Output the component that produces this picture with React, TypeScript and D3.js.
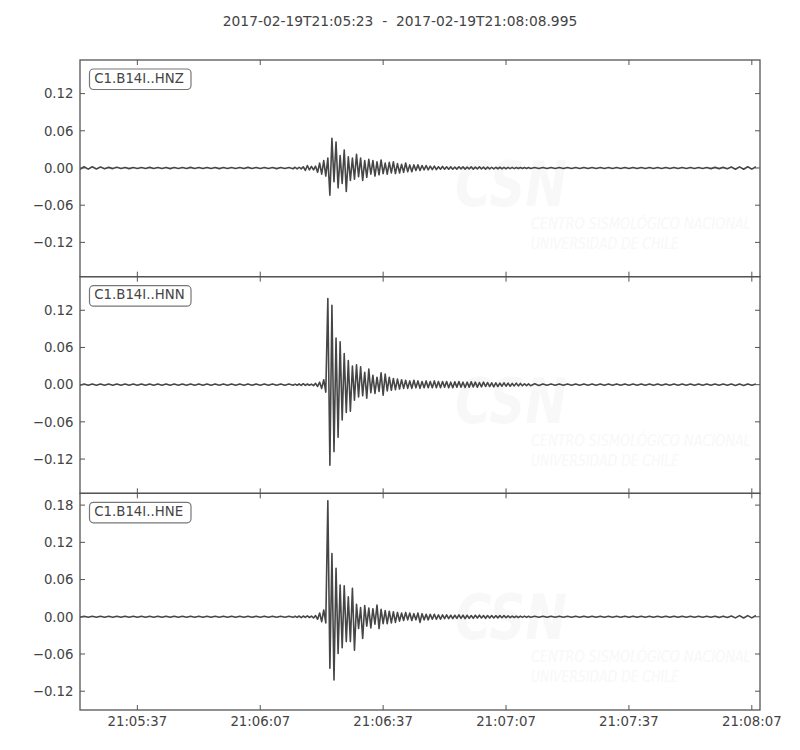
import { useEffect, useRef } from "react";
import * as d3 from "d3";

// Header and time axis
const TITLE = "2017-02-19T21:05:23  -  2017-02-19T21:08:08.995";
const DURATION = 165.995; // seconds after 21:05:23
const X_TICKS = [14, 44, 74, 104, 134, 164];
const X_TICK_LABELS = ["21:05:37", "21:06:07", "21:06:37", "21:07:07", "21:07:37", "21:08:07"];

// Channels, one per panel
const CHANNELS = ["C1.B14I..HNZ", "C1.B14I..HNN", "C1.B14I..HNE"];
const Y_DOMAINS: [number, number][] = [[-0.1753, 0.1742], [-0.1753, 0.1742], [-0.1503, 0.199]];
const Y_TICKS = [
  [-0.12, -0.06, 0, 0.06, 0.12],
  [-0.12, -0.06, 0, 0.06, 0.12],
  [-0.12, -0.06, 0, 0.06, 0.12, 0.18],
];

// sample timing of the three pieces of each trace (seconds)
const PRE_STEP = 1;
const DETAIL_START = 52;
const DETAIL_STEP = 0.5;
const POST_START = 110;
const POST_STEP = 1;

// HNZ: alternating peak values
const HNZ_PRE = [
  -0.002, 0.002, -0.0018, 0.002, -0.0015, 0.0015, -0.0012, 0.001, -0.001, 0.0012,
  -0.0009, 0.0009, -0.001, 0.0009, -0.0009, 0.0009, -0.0009, 0.001, -0.0009, 0.0009,
  -0.0009, 0.0009, -0.001, 0.0009, -0.0009, 0.0009, -0.0009, 0.001, -0.0009, 0.0009,
  -0.0009, 0.0009, -0.0009, 0.0009, -0.001, 0.0009, -0.0009, 0.0009, -0.0009, 0.0009,
  -0.0009, 0.001, -0.0009, 0.0009, -0.0009, 0.0009, -0.0009, 0.0009, -0.001, 0.0009,
  -0.0009, 0.0009,
];
const HNZ_DETAIL = [
  -0.0012, 0.0012, -0.0015, 0.0012, -0.0015, 0.002, -0.004, 0.004, -0.003, 0.0025,
  -0.003, 0.003, -0.007, 0.008, -0.01, 0.012, -0.013, 0.016, -0.044, 0.048,
  -0.022, 0.042, -0.032, 0.02, -0.025, 0.029, -0.038, 0.018, -0.02, 0.016,
  -0.018, 0.022, -0.014, 0.016, -0.02, 0.012, -0.015, 0.014, -0.01, 0.012,
  -0.013, 0.01, -0.011, 0.013, -0.009, 0.008, -0.01, 0.009, -0.008, 0.01,
  -0.009, 0.007, -0.008, 0.006, -0.007, 0.008, -0.006, 0.005, -0.006, 0.005,
  -0.004, 0.005, -0.004, 0.004, -0.003, 0.004, -0.003, 0.003, -0.0025, 0.003,
  -0.0025, 0.002, -0.002, 0.0025, -0.002, 0.002, -0.002, 0.0018, -0.002, 0.0015,
  -0.0018, 0.002, -0.0015, 0.0018, -0.0018, 0.0015, -0.0015, 0.0018, -0.0018, 0.0015,
  -0.0015, 0.0018, -0.0015, 0.0015, -0.0018, 0.0015, -0.0015, 0.0012, -0.0015, 0.0012,
  -0.0012, 0.0012, -0.0012, 0.001, -0.0012, 0.001, -0.001, 0.001, -0.001, 0.0009,
  -0.0009, 0.0009, -0.0009, 0.0009, -0.0008, 0.0008,
];
const HNZ_POST = [
  -0.0008, 0.0008, -0.0008, 0.0008, -0.0008, 0.0008, -0.0008, 0.0008, -0.0008, 0.0008,
  -0.0008, 0.0008, -0.0008, 0.0008, -0.0008, 0.0008, -0.0008, 0.0008, -0.0008, 0.0008,
  -0.0008, 0.0008, -0.0008, 0.0008, -0.0008, 0.0008, -0.0008, 0.0008, -0.0008, 0.0008,
  -0.0008, 0.0008, -0.0008, 0.0008, -0.0008, 0.0008, -0.0008, 0.0008, -0.0008, 0.0008,
  -0.0008, 0.0008, -0.0008, 0.0008, -0.001, 0.001, -0.001, 0.001, -0.0012, 0.0015,
  -0.002, 0.0018, -0.002, 0.002, -0.0018, 0.002,
];

// HNN
const HNN_PRE = [
  -0.0009, 0.0009, -0.0009, 0.001, -0.0009, 0.0009, -0.0009, 0.0009, -0.001, 0.0009,
  -0.0009, 0.0009, -0.0009, 0.0009, -0.0009, 0.001, -0.0009, 0.0009, -0.0009, 0.0009,
  -0.0009, 0.0009, -0.001, 0.0009, -0.0009, 0.0009, -0.0009, 0.0009, -0.0009, 0.0009,
  -0.0009, 0.001, -0.0009, 0.0009, -0.0009, 0.0009, -0.0009, 0.0009, -0.001, 0.0009,
  -0.0009, 0.0009, -0.0009, 0.0009, -0.0009, 0.0009, -0.0009, 0.001, -0.0009, 0.0009,
  -0.0009, 0.0009,
];
const HNN_DETAIL = [
  -0.0009, 0.0009, -0.0009, 0.001, -0.0012, 0.0015, -0.0012, 0.001, -0.0009, 0.0009,
  -0.0015, 0.002, -0.003, 0.004, -0.006, 0.008, -0.012, 0.139, -0.13, 0.128,
  -0.108, 0.075, -0.085, 0.069, -0.057, 0.05, -0.045, 0.039, -0.043, 0.03,
  -0.025, 0.032, -0.02, 0.029, -0.018, 0.02, -0.022, 0.025, -0.013, 0.015,
  -0.014, 0.012, -0.011, 0.019, -0.017, 0.017, -0.01, 0.012, -0.009, 0.01,
  -0.008, 0.009, -0.007, 0.008, -0.006, 0.007, -0.006, 0.006, -0.006, 0.007,
  -0.005, 0.006, -0.006, 0.005, -0.005, 0.006, -0.005, 0.005, -0.005, 0.006,
  -0.005, 0.005, -0.005, 0.005, -0.004, 0.005, -0.005, 0.004, -0.005, 0.0045,
  -0.004, 0.005, -0.004, 0.004, -0.0045, 0.004, -0.004, 0.0045, -0.0035, 0.004,
  -0.004, 0.0035, -0.0035, 0.004, -0.003, 0.0035, -0.003, 0.003, -0.0035, 0.003,
  -0.003, 0.0025, -0.0025, 0.003, -0.0025, 0.0025, -0.0025, 0.002, -0.002, 0.0025,
  -0.002, 0.002, -0.0018, 0.0015, -0.0015, 0.0012,
];
const HNN_POST = [
  -0.0018, 0.0015, -0.0012, 0.0012, -0.001, 0.001, -0.0009, 0.0009, -0.0009, 0.0009,
  -0.0009, 0.0009, -0.0009, 0.0009, -0.0009, 0.0009, -0.0009, 0.0009, -0.0009, 0.0009,
  -0.0009, 0.0009, -0.0009, 0.0009, -0.0009, 0.0009, -0.0009, 0.0009, -0.0009, 0.0009,
  -0.0009, 0.0009, -0.0009, 0.0009, -0.0009, 0.0009, -0.0009, 0.0009, -0.0009, 0.0009,
  -0.0009, 0.0009, -0.0009, 0.0009, -0.0009, 0.0009, -0.0009, 0.0009, -0.0009, 0.0009,
  -0.0012, 0.001, -0.0012, 0.0012, -0.001, 0.0012,
];

// HNE
const HNE_PRE = [
  -0.0007, 0.0007, -0.0007, 0.0009, -0.0007, 0.0007, -0.0007, 0.0007, -0.0009, 0.0007,
  -0.0007, 0.0007, -0.0007, 0.0007, -0.0007, 0.0009, -0.0007, 0.0007, -0.0007, 0.0007,
  -0.0007, 0.0007, -0.0009, 0.0007, -0.0007, 0.0007, -0.0007, 0.0007, -0.0007, 0.0007,
  -0.0007, 0.0009, -0.0007, 0.0007, -0.0007, 0.0007, -0.0007, 0.0007, -0.0009, 0.0007,
  -0.0007, 0.0007, -0.0007, 0.0007, -0.0007, 0.0007, -0.0007, 0.0009, -0.0007, 0.0007,
  -0.0007, 0.0007,
];
const HNE_DETAIL = [
  -0.0009, 0.0009, -0.001, 0.0012, -0.0015, 0.0012, -0.001, 0.0015, -0.0012, 0.0012,
  -0.002, 0.002, -0.004, 0.006, -0.008, 0.011, -0.01, 0.187, -0.083, 0.102,
  -0.102, 0.078, -0.059, 0.051, -0.05, 0.05, -0.04, 0.032, -0.04, 0.046,
  -0.054, 0.02, -0.019, 0.015, -0.035, 0.018, -0.015, 0.014, -0.018, 0.013,
  -0.012, 0.019, -0.019, 0.012, -0.011, 0.01, -0.011, 0.009, -0.01, 0.008,
  -0.009, 0.007, -0.007, 0.006, -0.006, 0.007, -0.005, 0.006, -0.006, 0.005,
  -0.005, 0.006, -0.009, 0.005, -0.005, 0.004, -0.005, 0.004, -0.004, 0.004,
  -0.004, 0.003, -0.004, 0.003, -0.003, 0.003, -0.003, 0.0025, -0.003, 0.0025,
  -0.0025, 0.003, -0.0025, 0.0025, -0.003, 0.0025, -0.0025, 0.002, -0.0025, 0.0025,
  -0.002, 0.0025, -0.002, 0.002, -0.0025, 0.002, -0.002, 0.002, -0.002, 0.0018,
  -0.0018, 0.0018, -0.0015, 0.0018, -0.0015, 0.0015, -0.0015, 0.0012, -0.0012, 0.0012,
  -0.0012, 0.001, -0.001, 0.001, -0.0009, 0.0009,
];
const HNE_POST = [
  -0.0009, 0.0008, -0.0008, 0.0008, -0.0008, 0.0008, -0.0008, 0.0008, -0.0008, 0.0008,
  -0.0008, 0.0008, -0.0008, 0.0008, -0.0008, 0.0008, -0.0008, 0.0008, -0.0008, 0.0008,
  -0.0008, 0.0008, -0.0008, 0.0008, -0.0008, 0.0008, -0.0008, 0.0008, -0.0008, 0.0008,
  -0.0008, 0.0008, -0.0008, 0.0008, -0.0008, 0.0008, -0.0008, 0.0008, -0.0008, 0.0008,
  -0.0008, 0.0008, -0.0008, 0.0008, -0.0008, 0.0008, -0.001, 0.001, -0.001, 0.0012,
  -0.0018, 0.0018, -0.002, 0.0018, -0.0018, 0.002,
];

const TRACES = [
  [HNZ_PRE, HNZ_DETAIL, HNZ_POST],
  [HNN_PRE, HNN_DETAIL, HNN_POST],
  [HNE_PRE, HNE_DETAIL, HNE_POST],
];

const WATERMARK = ["CSN", "CENTRO SISMOLÓGICO NACIONAL", "UNIVERSIDAD DE CHILE"];

type Pt = { t: number; v: number };

function buildTrace([pre, detail, post]: number[][]): Pt[] {
  return [
    ...pre.map((v, i) => ({ t: i * PRE_STEP, v })),
    ...detail.map((v, i) => ({ t: DETAIL_START + i * DETAIL_STEP, v })),
    ...post.map((v, i) => ({ t: POST_START + i * POST_STEP, v })),
  ];
}

export default function App() {
  const svgRef = useRef<SVGSVGElement>(null);

  useEffect(() => {
    document.body.style.margin = "0";
    const svg = d3.select(svgRef.current);
    svg.selectAll("*").remove();

    const font = "'DejaVu Sans', sans-serif";
    const ink = "#444";
    const frame = "#555";
    const left = 80, right = 760, top = 60;
    const panelH = 650 / 3;

    const x = d3.scaleLinear().domain([0, DURATION]).range([left, right]);
    const fmt = d3.format(".2f");

    svg.append("rect").attr("width", 800).attr("height", 750).attr("fill", "#fff");

    svg.append("text")
      .attr("x", 400).attr("y", 26)
      .attr("text-anchor", "middle")
      .attr("font-family", font).attr("font-size", 13.8)
      .attr("fill", ink)
      .attr("xml:space", "preserve")
      .style("white-space", "pre")
      .text(TITLE);

    CHANNELS.forEach((name, pi) => {
      const y0 = top + pi * panelH;
      const y1 = y0 + panelH;
      const y = d3.scaleLinear().domain(Y_DOMAINS[pi]).range([y1, y0]);
      const g = svg.append("g");

      // very faint watermark
      const wm = g.append("g").attr("fill", "#f8f8f8")
        .attr("font-family", "'DejaVu Sans Condensed', 'DejaVu Sans', sans-serif")
        .attr("font-style", "italic");
      wm.append("text").attr("x", 455).attr("y", y0 + 146)
        .attr("font-size", 62).attr("font-weight", "bold")
        .attr("textLength", 112).attr("lengthAdjust", "spacingAndGlyphs")
        .text(WATERMARK[0]);
      wm.append("text").attr("x", 531).attr("y", y0 + 169)
        .attr("font-size", 16.5)
        .attr("textLength", 220).attr("lengthAdjust", "spacingAndGlyphs")
        .text(WATERMARK[1]);
      wm.append("text").attr("x", 531).attr("y", y0 + 189)
        .attr("font-size", 16.5)
        .attr("textLength", 148).attr("lengthAdjust", "spacingAndGlyphs")
        .text(WATERMARK[2]);

      // waveform
      const clipId = `clip-${pi}`;
      g.append("clipPath").attr("id", clipId)
        .append("rect").attr("x", left).attr("y", y0).attr("width", right - left).attr("height", panelH);

      g.append("path")
        .datum(buildTrace(TRACES[pi]))
        .attr("clip-path", `url(#${clipId})`)
        .attr("d", d3.line<Pt>().x(d => x(d.t)).y(d => y(d.v)))
        .attr("fill", "none")
        .attr("stroke", "#464646")
        .attr("stroke-width", 1.6)
        .attr("stroke-linejoin", "round");

      // frame
      g.append("rect")
        .attr("x", left).attr("y", y0).attr("width", right - left).attr("height", panelH)
        .attr("fill", "none").attr("stroke", frame).attr("stroke-width", 1.3);

      // y ticks (inside, both sides) + labels
      Y_TICKS[pi].forEach(v => {
        const yy = y(v);
        g.append("line").attr("x1", left).attr("x2", left + 5).attr("y1", yy).attr("y2", yy)
          .attr("stroke", frame).attr("stroke-width", 1);
        g.append("line").attr("x1", right - 5).attr("x2", right).attr("y1", yy).attr("y2", yy)
          .attr("stroke", frame).attr("stroke-width", 1);
        g.append("text")
          .attr("x", 73.5).attr("y", yy).attr("dy", "0.36em")
          .attr("text-anchor", "end")
          .attr("font-family", font).attr("font-size", 13.3).attr("fill", ink)
          .text(fmt(v));
      });

      // x ticks top and bottom of every panel
      X_TICKS.forEach(t => {
        const xx = x(t);
        g.append("line").attr("x1", xx).attr("x2", xx).attr("y1", y0).attr("y2", y0 + 5)
          .attr("stroke", frame).attr("stroke-width", 1);
        g.append("line").attr("x1", xx).attr("x2", xx).attr("y1", y1 - 5).attr("y2", y1)
          .attr("stroke", frame).attr("stroke-width", 1);
      });

      // channel label box
      const lab = g.append("g");
      lab.append("rect")
        .attr("x", 89.5).attr("y", y0 + 9).attr("width", 101.5).attr("height", 20.5)
        .attr("rx", 4).attr("fill", "#fff").attr("stroke", "#777").attr("stroke-width", 1.2);
      lab.append("text")
        .attr("x", 94.3).attr("y", y0 + 22.5)
        .attr("font-family", font).attr("font-size", 13.3).attr("fill", ink)
        .text(name);

      // time labels only under the last panel
      if (pi === CHANNELS.length - 1) {
        X_TICKS.forEach((t, i) => {
          g.append("text")
            .attr("x", x(t)).attr("y", y1 + 16)
            .attr("text-anchor", "middle")
            .attr("font-family", font).attr("font-size", 13.3).attr("fill", ink)
            .text(X_TICK_LABELS[i]);
        });
      }
    });
  }, []);

  return <svg ref={svgRef} width={800} height={750} style={{ display: "block" }} />;
}
